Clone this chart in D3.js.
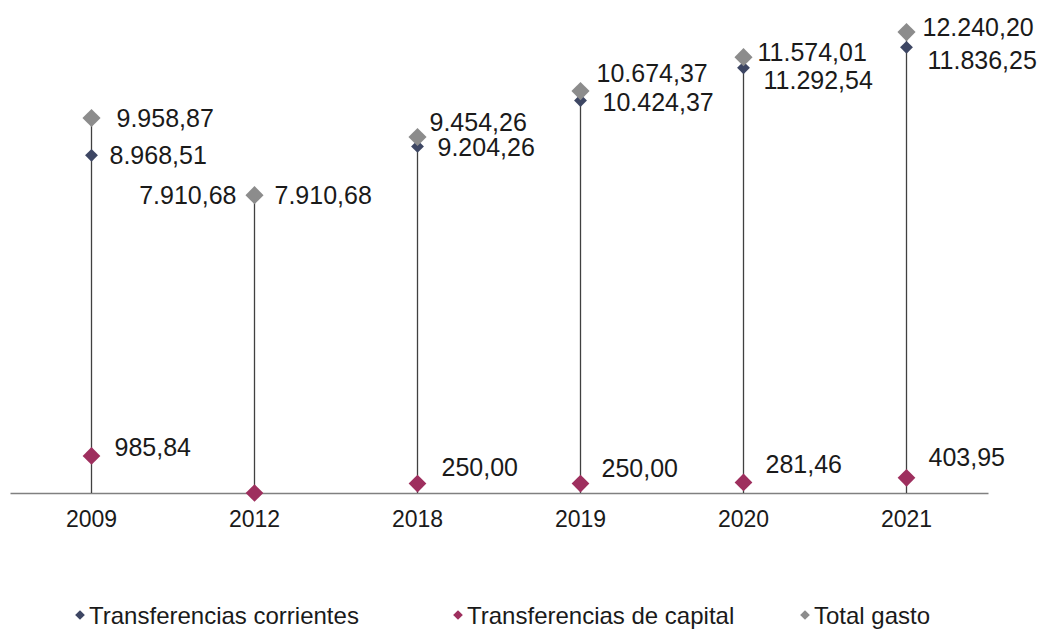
<!DOCTYPE html>
<html>
<head>
<meta charset="utf-8"/>
<style>
  body { margin: 0; background: #fff; }
  text { font-family: "Liberation Sans", Arial, sans-serif; fill: #1a1a1a; }
</style>
</head>
<body>
<div id="chart"></div>
<script src="https://cdn.jsdelivr.net/npm/d3@7"></script>
<script>

// ---- data ----
var years      = ["2009", "2012", "2018", "2019", "2020", "2021"];
var corrientes = [8968.51, 7910.68, 9204.26, 10424.37, 11292.54, 11836.25];
var capital    = [985.84, 0, 250.00, 250.00, 281.46, 403.95];
var total      = [9958.87, 7910.68, 9454.26, 10674.37, 11574.01, 12240.20];

var seriesNames  = ["Transferencias corrientes", "Transferencias de capital", "Total gasto"];
var seriesColors = ["#3d4663", "#9e2f5e", "#8c8c8c"];

// label nudges (dx, dy in px) relative to the point, like the hand-placed labels
var corrOff  = [[18, 0], [-18, 0], [20, 1], [22, 2], [20, 12], [21, 13]];
var capOff   = [[23, -9], [0, 0], [24, -17], [21, -16], [22, -18], [22, -21]];
var totalOff = [[25, 0], [20, 0], [12, -15], [16, -18], [14, -5], [16, -5]];

var W = 1038, H = 630;
var svg = d3.select("#chart").append("svg")
    .attr("width", W).attr("height", H);

var x = d3.scaleBand().domain(years).range([10, 988]);
var y = d3.scaleLinear().domain([0, 13000]).range([493, 3.5]);

var fmt = d3.formatLocale({decimal: ",", thousands: ".", grouping: [3], currency: ["", ""]}).format(",.2f");
var cx = function(i) { return x(years[i]) + x.bandwidth() / 2; };

// baseline axis
var xAxis = d3.axisBottom(x).tickSize(0).tickPadding(18);
var ax = svg.append("g").attr("transform", "translate(0,493)").call(xAxis);
ax.select(".domain").attr("stroke", "#808080").attr("stroke-width", 1.3);
ax.selectAll("text").attr("font-size", 23).attr("fill", "#1a1a1a")
    .style("font-family", "'Liberation Sans', Arial, sans-serif");

// drop lines
svg.selectAll(".drop")
    .data(years)
  .enter().append("line")
    .attr("class", "drop")
    .attr("x1", function(d, i) { return cx(i); })
    .attr("x2", function(d, i) { return cx(i); })
    .attr("y1", y(0))
    .attr("y2", function(d, i) { return y(total[i]); })
    .attr("stroke", "#404040")
    .attr("stroke-width", 1.3);

function diamond(vals, color, size, cls) {
  svg.selectAll("." + cls)
      .data(vals)
    .enter().append("path")
      .attr("class", cls)
      .attr("d", d3.symbol().type(d3.symbolDiamond2).size(size))
      .attr("transform", function(d, i) { return "translate(" + cx(i) + "," + y(d) + ")"; })
      .attr("fill", color);
}

function labels(vals, off, cls) {
  var idx = d3.range(vals.length).filter(function(i) { return vals[i] > 0; });
  svg.selectAll("." + cls)
      .data(idx)
    .enter().append("text")
      .attr("class", cls)
      .attr("x", function(i) { return cx(i) + off[i][0]; })
      .attr("y", function(i) { return y(vals[i]) + off[i][1]; })
      .attr("dy", "0.36em")
      .attr("font-size", 25)
      .attr("text-anchor", function(i) { return off[i][0] < 0 ? "end" : "start"; })
      .text(function(i) { return fmt(vals[i]); });
}

diamond(capital, seriesColors[1], 200, "cap");
diamond(corrientes, seriesColors[0], 105, "corr");
diamond(total, seriesColors[2], 210, "tot");

labels(capital, capOff, "lcap");
labels(corrientes, corrOff, "lcorr");
labels(total, totalOff, "ltot");

// legend
var legX = [80, 458, 805];
var leg = svg.selectAll(".leg")
    .data(seriesNames)
  .enter().append("g")
    .attr("class", "leg")
    .attr("transform", function(d, i) { return "translate(" + legX[i] + ",615)"; });

leg.append("path")
    .attr("d", d3.symbol().type(d3.symbolDiamond2).size(60))
    .attr("fill", function(d, i) { return seriesColors[i]; });

leg.append("text")
    .attr("x", 9)
    .attr("dy", "0.36em")
    .attr("font-size", 24)
    .text(function(d) { return d; });

</script>
</body>
</html>
